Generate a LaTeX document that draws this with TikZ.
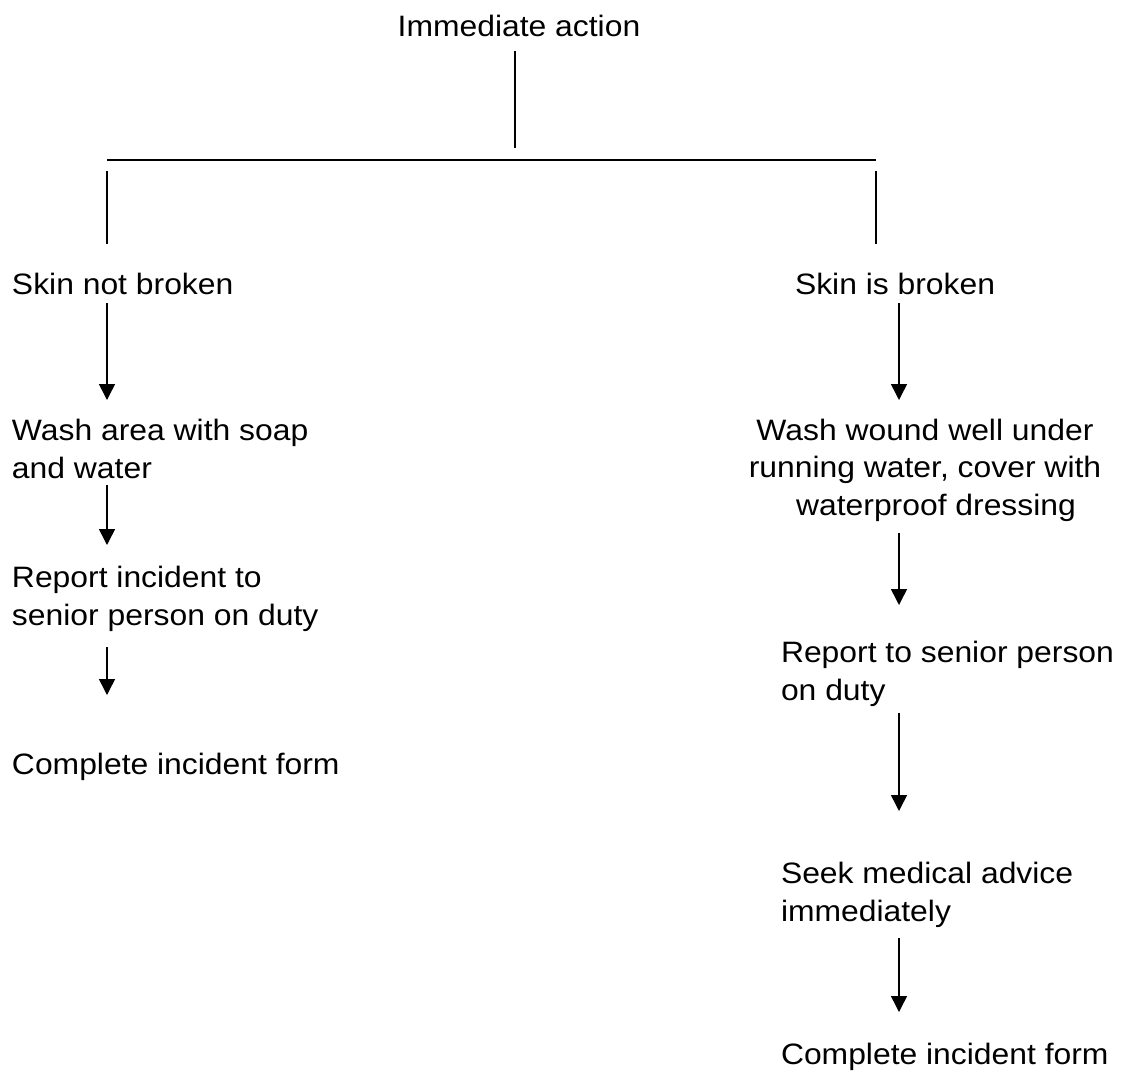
\documentclass[tikz,border=0pt]{standalone}
\usepackage{fontspec}
\setmainfont{Liberation Sans}[FakeStretch=1.08]
\usetikzlibrary{arrows.meta}
\tikzset{
  lbl/.style={inner sep=0pt, outer sep=0pt, font=\fontsize{29.5pt}{37.5pt}\selectfont},
  lleft/.style={lbl, anchor=base west, align=left},
  conn/.style={line width=1.5pt},
  bar/.style={line width=2pt},
  arr/.style={line width=1.5pt, -{Triangle[width=16pt,length=16pt]}}
}
\begin{document}
\begin{tikzpicture}[x=1pt,y=-1pt]
\useasboundingbox (0,0) rectangle (1125,1072);
% texts (multi-line nodes are placed by the baseline of their last line)
\node[lbl, anchor=base] (top) at (519,36) {Immediate action};
\node[lleft] (sl) at (12,294) {Skin not broken};
\node[lleft] (wl) at (12,478) {Wash area with soap\\and water};
\node[lleft] (rl) at (12,625) {Report incident to\\senior person on duty};
\node[lleft] (cl) at (12,774) {Complete incident form};
\node[lleft] (sr) at (795,294) {Skin is broken};
\node[lbl, anchor=base, align=center] (wr) at (925,515) {Wash wound well under\\running water, cover with\\\hspace*{22pt}waterproof dressing};
\node[lleft] (rr) at (781,700) {Report to senior person\\on duty};
\node[lleft] (mr) at (781,921) {Seek medical advice\\immediately};
\node[lleft] (cr) at (781,1064) {Complete incident form};
% connector points
\coordinate (t1) at (515,51);
\coordinate (t2) at (515,148);
\coordinate (hL) at (107,159.5);
\coordinate (hR) at (876,159.5);
\coordinate (l1) at (107,171);
\coordinate (l2) at (107,244);
\coordinate (r1) at (876,171);
\coordinate (r2) at (876,244);
\coordinate (la1) at (107,303); \coordinate (la2) at (107,400);
\coordinate (lb1) at (107,485); \coordinate (lb2) at (107,545);
\coordinate (lc1) at (107,647); \coordinate (lc2) at (107,695);
\coordinate (ra1) at (899,303); \coordinate (ra2) at (899,400);
\coordinate (rb1) at (899,533); \coordinate (rb2) at (899,605);
\coordinate (rc1) at (899,713); \coordinate (rc2) at (899,811);
\coordinate (rd1) at (899,938); \coordinate (rd2) at (899,1012);
% connectors
\draw[conn] (t1) -- (t2);
\draw[bar] (hL) -- (hR);
\draw[conn] (l1) -- (l2);
\draw[conn] (r1) -- (r2);
\draw[arr] (la1) -- (la2);
\draw[arr] (lb1) -- (lb2);
\draw[arr] (lc1) -- (lc2);
\draw[arr] (ra1) -- (ra2);
\draw[arr] (rb1) -- (rb2);
\draw[arr] (rc1) -- (rc2);
\draw[arr] (rd1) -- (rd2);
\end{tikzpicture}
\end{document}
